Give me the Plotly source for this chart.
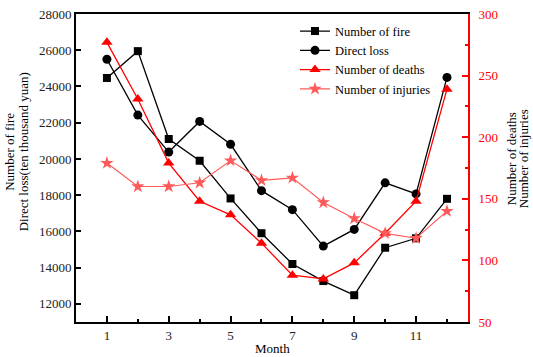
import plotly.graph_objects as go

months = [1, 2, 3, 4, 5, 6, 7, 8, 9, 10, 11, 12]
fire_count = [24470, 25950, 21100, 19900, 17820, 15900, 14200, 13260, 12480, 15100, 15620, 17800]
direct_loss = [25500, 22420, 20380, 22070, 20810, 18250, 17200, 15190, 16110, 18680, 18070, 24500]
deaths = [277, 231, 179, 148, 137, 114, 88, 85, 98, 122, 148, 239]
injuries = [179, 160, 160, 163, 181, 165, 167, 147, 134, 122, 118, 140]

x_tick_vals = [1, 3, 5, 7, 9, 11]
x_minor_vals = [2, 4, 6, 8, 10, 12]
left_tick_vals = [12000, 14000, 16000, 18000, 20000, 22000, 24000, 26000, 28000]
right_tick_vals = [50, 100, 150, 200, 250, 300]
right_minor_vals = [75, 125, 175, 225, 275]

FONT = "Liberation Serif"
RED = "#FF0000"
LIGHT_RED = "#FF5A5A"

W, H = 533, 357
ML, MR, MT, MB = 76, 65, 7, 35
PW = W - ML - MR
PH = H - MT - MB


def px_x(px):
    return (px - ML) / PW


def px_y(py):
    return (H - MB - py) / PH


fig = go.Figure()
fig.add_trace(go.Scatter(x=months, y=fire_count, name="Number of fire", mode="lines+markers",
                         line=dict(color="black", width=1.3),
                         marker=dict(symbol="square", size=8, color="black")))
fig.add_trace(go.Scatter(x=months, y=direct_loss, name="Direct loss", mode="lines+markers",
                         line=dict(color="black", width=1.3),
                         marker=dict(symbol="circle", size=9, color="black")))
fig.add_trace(go.Scatter(x=months, y=deaths, name="Number of deaths", mode="lines+markers",
                         yaxis="y2",
                         line=dict(color=RED, width=1.3),
                         marker=dict(symbol="triangle-up", size=10, color=RED)))
fig.add_trace(go.Scatter(x=months, y=injuries, name="Number of injuries", mode="lines+markers",
                         yaxis="y2",
                         line=dict(color=LIGHT_RED, width=1.2),
                         marker=dict(symbol="star", size=10, color=LIGHT_RED)))

title_font = dict(family=FONT, size=13, color="black")
annotations = [
    dict(text="Number of fire", x=px_x(10), y=px_y(148), textangle=-90),
    dict(text="Direct loss(ten thousand yuan)", x=px_x(23.5), y=px_y(148), textangle=-90),
    dict(text="Number of deaths", x=px_x(511.5), y=px_y(155), textangle=-90),
    dict(text="Number of injuries", x=px_x(523.5), y=px_y(155), textangle=-90),
    dict(text="Month", x=px_x(272), y=px_y(349), textangle=0),
]
for a in annotations:
    a.update(xref="paper", yref="paper", xanchor="center", yanchor="middle",
             showarrow=False, font=title_font)

fig.update_layout(
    width=W, height=H,
    margin=dict(l=ML, r=MR, t=MT, b=MB, pad=0),
    paper_bgcolor="white", plot_bgcolor="white",
    font=dict(family=FONT, size=13, color="black"),
    showlegend=True,
    legend=dict(x=px_x(295), y=px_y(54), xanchor="left", yanchor="middle",
                bgcolor="rgba(0,0,0,0)", font=dict(family=FONT, size=12.5),
                tracegroupgap=0, itemwidth=30),
    annotations=annotations,
    xaxis=dict(range=[0, 12.68], tickvals=x_tick_vals, ticks="inside", ticklen=6,
               tickwidth=1.5, tickcolor="black",
               minor=dict(tickvals=x_minor_vals, ticks="inside", ticklen=3,
                          tickwidth=1.5, tickcolor="black"),
               showline=True, linecolor="black", linewidth=2, mirror=True,
               showgrid=False, zeroline=False,
               tickfont=dict(family=FONT, size=13, color="#222")),
    yaxis=dict(range=[11000, 28000], tickvals=left_tick_vals, tickformat="d",
               ticks="inside", ticklen=5,
               tickwidth=1.5, tickcolor="black",
               showline=True, linecolor="black", linewidth=2,
               showgrid=False, zeroline=False,
               tickfont=dict(family=FONT, size=13, color="#222")),
    yaxis2=dict(range=[50, 300], tickvals=right_tick_vals, overlaying="y", side="right",
                ticks="inside", ticklen=6, tickwidth=1.5, tickcolor=RED,
                ticklabelstandoff=6,
                minor=dict(tickvals=right_minor_vals, ticks="inside", ticklen=3,
                           tickwidth=1.5, tickcolor=RED),
                showline=True, linecolor=RED, linewidth=2,
                showgrid=False, zeroline=False,
                tickfont=dict(family=FONT, size=13, color=RED)),
)

fig.write_html("out.html", config={"displayModeBar": False},
               post_script="document.body.style.margin='0';")
